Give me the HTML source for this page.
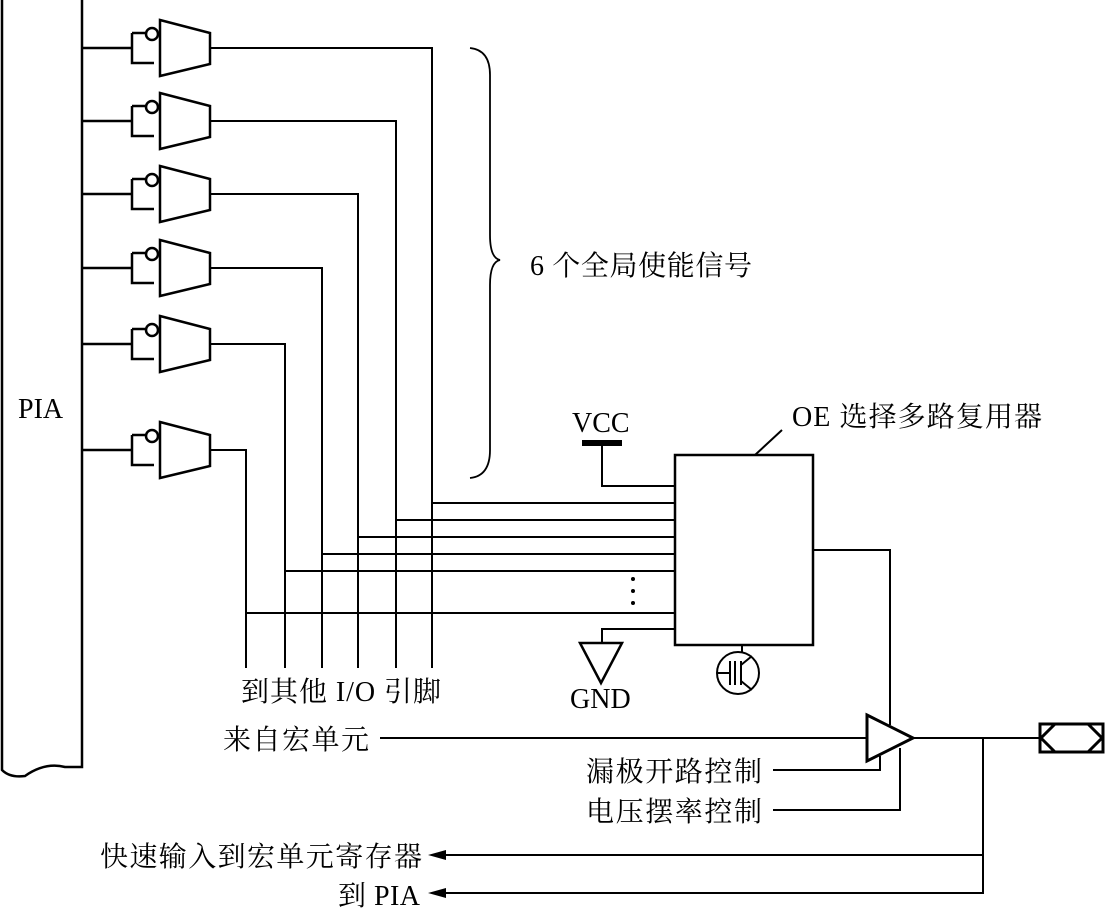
<!DOCTYPE html>
<html><head><meta charset="utf-8"><style>
html,body{margin:0;padding:0;background:#fff;}
svg{display:block;}
text{font-family:"Liberation Serif","Noto Serif CJK SC","Noto Sans CJK SC",serif;font-size:28px;fill:#000;}
</style></head><body>
<svg width="1105" height="912" viewBox="0 0 1105 912" xmlns="http://www.w3.org/2000/svg">
<defs>
<g id="gate" fill="none" stroke="#000" stroke-width="2.5">
<path d="M-100 0 H-50 M-50 -15 V15 H-28 M-50 -15 H-36" />
<circle cx="-30" cy="-14" r="6" fill="#fff"/>
<path d="M-22 -28 L28 -15 V16 L-22 28 Z" fill="#fff"/>
</g>
</defs>
<path d="M2 0 V770 Q10 778 25 776 Q45 762 65 767 L82 767 V0" fill="none" stroke="#000" stroke-width="2.5"/>
<text x="18" y="418">PIA</text>
<g stroke="#000" stroke-width="2" fill="none">
<use href="#gate" x="182" y="48"/>
<use href="#gate" x="182" y="121"/>
<use href="#gate" x="182" y="194"/>
<use href="#gate" x="182" y="268"/>
<use href="#gate" x="182" y="344"/>
<use href="#gate" x="182" y="450"/>
<path d="M210 48 H432 V668 M210 121 H396 V668 M210 194 H358 V668 M210 268 H322 V668 M210 344 H285 V668 M210 450 H246 V668"/>
<path d="M432 503 H675 M396 520 H675 M358 537 H675 M322 554 H675 M285 571 H675 M246 613 H675"/>
<path d="M602 443 V486 H675 M675 629 H602 V643"/>
<path d="M470 48 Q490 50 490 75 V235 Q490 258 500 260 Q490 262 490 285 V450 Q490 476 470 478" stroke-width="1.8"/>
<path d="M813 550 H890 V725 M380 738 H867 M773 770 H880 V756 M773 810 H900 V748 M913 738 H1040 M983 738 V893 H440 M983 855 H440 M755 455 L782 430"/>
<path d="M742 645 V652"/>
</g>
<rect x="582" y="440" width="40" height="6" fill="#000"/>
<path d="M580 643 H622 L601 683 Z" fill="none" stroke="#000" stroke-width="2.5"/>
<rect x="675" y="455" width="138" height="190" fill="none" stroke="#000" stroke-width="2.5"/>
<g fill="#000"><circle cx="633" cy="579" r="2"/><circle cx="633" cy="591" r="2"/><circle cx="633" cy="603" r="2"/></g>
<g stroke="#000" stroke-width="2" fill="none">
<circle cx="738" cy="673" r="21"/>
<path d="M717 673 H730 M730 661 V685 M735 661 V685 M741 661 V685 M741 665 L752 656 M741 681 L752 690"/>
</g>
<path d="M867 715 L913 738 L867 761 Z" fill="#fff" stroke="#000" stroke-width="3"/>
<rect x="1040" y="724" width="63" height="28" fill="none" stroke="#000" stroke-width="3"/>
<path d="M1055 724 L1041 738 L1055 752 M1088 724 L1102 738 L1088 752" fill="none" stroke="#000" stroke-width="3"/>
<path d="M428 855 L446 850 L446 860 Z M428 893 L446 888 L446 898 Z" fill="#000"/>
<text x="530" y="275" textLength="222">6 个全局使能信号</text>
<text x="572" y="432">VCC</text>
<text x="570" y="708">GND</text>
<text x="792" y="426" textLength="250">OE 选择多路复用器</text>
<text x="241" y="701" textLength="200">到其他 I/O 引脚</text>
<text x="223" y="749" textLength="146">来自宏单元</text>
<text x="586" y="781" textLength="176">漏极开路控制</text>
<text x="586" y="821" textLength="176">电压摆率控制</text>
<text x="100" y="866" textLength="322">快速输入到宏单元寄存器</text>
<text x="338" y="905" textLength="82">到 PIA</text>
</svg>
</body></html>
